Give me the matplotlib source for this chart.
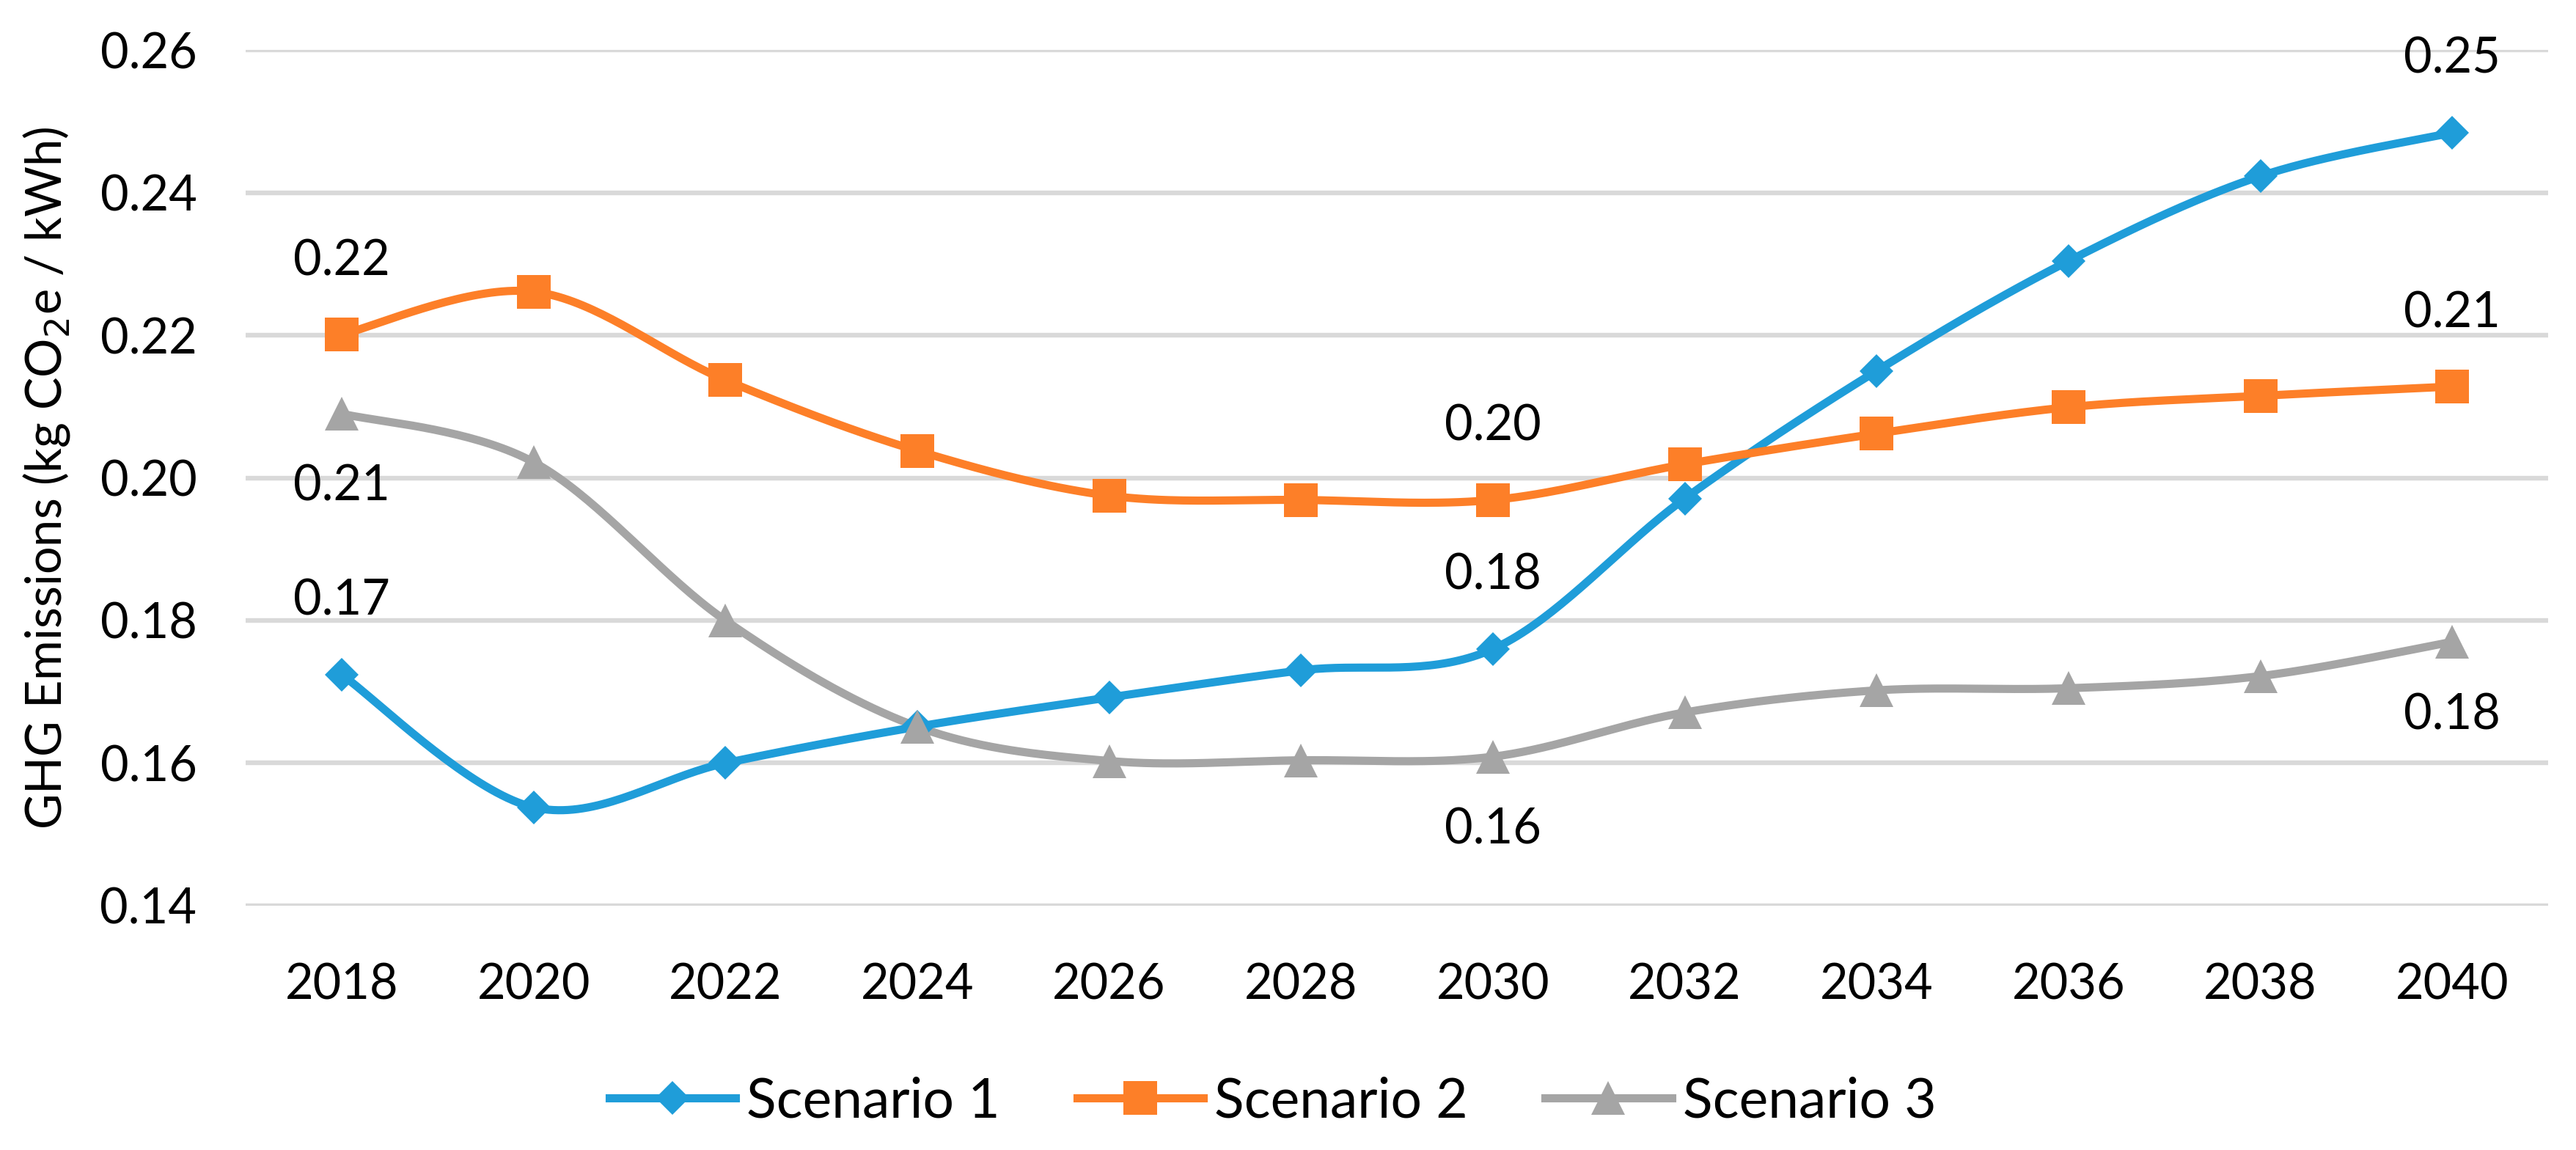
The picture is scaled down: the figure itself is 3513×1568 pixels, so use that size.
import matplotlib
matplotlib.use('Agg')
import matplotlib.pyplot as plt
from matplotlib.lines import Line2D
import numpy as np

plt.rcParams['font.family'] = ['Lato', 'DejaVu Sans']

# data
years = [2018, 2020, 2022, 2024, 2026, 2028, 2030, 2032, 2034, 2036, 2038, 2040]
s1 = [0.1724, 0.1538, 0.1600, 0.1651, 0.1692, 0.1730, 0.1760, 0.1971, 0.2150, 0.2304, 0.2423, 0.2484]
s2 = [0.2201, 0.2261, 0.2137, 0.2038, 0.1975, 0.1969, 0.1969, 0.2019, 0.2062, 0.2099, 0.2115, 0.2128]
s3 = [0.2090, 0.2022, 0.1800, 0.1651, 0.1603, 0.1604, 0.1609, 0.1671, 0.1702, 0.1705, 0.1722, 0.1770]
names = ['Scenario 1', 'Scenario 2', 'Scenario 3']
colors = ['#1F9DD9', '#FD7F28', '#A5A5A5']
markers = ['D', 's', '^']
msizes = [11.5, 16.5, 16.5]
# which points get a value label, and whether it sits above (+1) or below (-1)
label_idx = [0, 6, 11]
label_side = [[1, 1, 1], [1, 1, 1], [-1, -1, -1]]

FS = 24


def smooth(x, y, n=40):
    # Catmull-Rom style bezier, similar to Excel's smoothed line
    x = np.asarray(x, float)
    y = np.asarray(y, float)
    px = np.r_[x[0], x, x[-1]]
    py = np.r_[y[0], y, y[-1]]
    t = np.linspace(0, 1, n)
    xs, ys = [], []
    for i in range(len(x) - 1):
        p0 = np.array([px[i], py[i]])
        p1 = np.array([px[i + 1], py[i + 1]])
        p2 = np.array([px[i + 2], py[i + 2]])
        p3 = np.array([px[i + 3], py[i + 3]])
        c1 = p1 + (p2 - p0) / 6
        c2 = p2 - (p3 - p1) / 6
        b = ((1 - t) ** 3)[:, None] * p1 + (3 * (1 - t) ** 2 * t)[:, None] * c1 \
            + (3 * (1 - t) * t ** 2)[:, None] * c2 + (t ** 3)[:, None] * p2
        xs.append(b[:, 0])
        ys.append(b[:, 1])
    return np.concatenate(xs), np.concatenate(ys)


fig = plt.figure(figsize=(17.565, 7.84), dpi=200)
ax = fig.add_axes([0.0954, 0.2124, 0.8938, 0.7442])

xpos = np.arange(len(years))
handles = []
for k, ser in enumerate([s1, s2, s3]):
    sx, sy = smooth(xpos, ser)
    ax.plot(sx, sy, color=colors[k], lw=4, solid_capstyle='round', zorder=3)
    ax.plot(xpos, ser, linestyle='none', marker=markers[k], ms=msizes[k],
            color=colors[k], markeredgewidth=0, zorder=4)
    for j, i in enumerate(label_idx):
        ax.annotate(f'{ser[i]:.2f}', (xpos[i], ser[i]), xytext=(0, 36 * label_side[k][j]),
                    textcoords='offset points', ha='center', va='center', fontsize=FS)
    handles.append(Line2D([], [], color=colors[k], lw=4, marker=markers[k], ms=msizes[k],
                          markeredgewidth=0))

ax.set_xlim(-0.5, len(years) - 0.5)
ax.set_ylim(0.14, 0.26)
ax.set_yticks(np.arange(0.14, 0.2601, 0.02))
ax.set_yticklabels([f'{v:.2f}' for v in np.arange(0.14, 0.2601, 0.02)])
ax.set_xticks(xpos)
ax.set_xticklabels([str(y) for y in years])
ax.tick_params(axis='y', length=0, pad=24, labelsize=FS)
ax.tick_params(axis='x', length=0, pad=28, labelsize=FS)
ax.grid(axis='y', color='#D9D9D9', lw=2.3, zorder=0)
ax.set_axisbelow(True)
for sp in ax.spines.values():
    sp.set_visible(False)

ax.set_ylabel('GHG Emissions (kg CO$_2$e / kWh)', fontsize=FS, labelpad=14)

fig.legend(handles, names, loc='center', bbox_to_anchor=(0.494, 0.042), ncol=3,
           frameon=False, fontsize=27, handlelength=2.3, handletextpad=0.2,
           columnspacing=1.4)

fig.savefig('out.png', dpi=200)
